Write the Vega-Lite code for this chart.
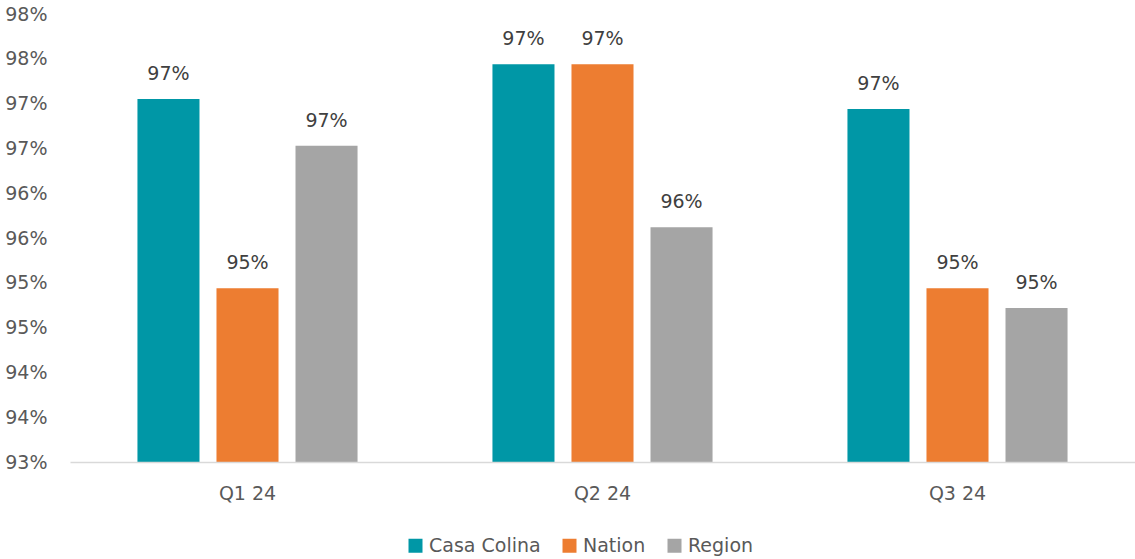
{
  "$schema": "https://vega.github.io/schema/vega-lite/v6.json",
  "width": 1065,
  "height": 448,
  "autosize": {"type": "none"},
  "padding": {"left": 70, "top": 14, "right": 0, "bottom": 97},
  "background": "white",
  "config": {
    "view": {"stroke": null},
    "font": "DejaVu Sans"
  },
  "data": {
    "values": [
      {"quarter": "Q1 24", "series": "Casa Colina", "value": 0.9705},
      {"quarter": "Q1 24", "series": "Nation", "value": 0.9494},
      {"quarter": "Q1 24", "series": "Region", "value": 0.9653},
      {"quarter": "Q2 24", "series": "Casa Colina", "value": 0.9744},
      {"quarter": "Q2 24", "series": "Nation", "value": 0.9744},
      {"quarter": "Q2 24", "series": "Region", "value": 0.9562},
      {"quarter": "Q3 24", "series": "Casa Colina", "value": 0.9694},
      {"quarter": "Q3 24", "series": "Nation", "value": 0.9494},
      {"quarter": "Q3 24", "series": "Region", "value": 0.9472}
    ]
  },
  "encoding": {
    "x": {
      "field": "quarter",
      "type": "nominal",
      "sort": ["Q1 24", "Q2 24", "Q3 24"],
      "scale": {"paddingInner": 0.38, "paddingOuter": 0.19},
      "axis": {
        "title": null,
        "labelAngle": 0,
        "ticks": false,
        "domainColor": "#d9d9d9",
        "domainWidth": 1.5,
        "labelFont": "DejaVu Sans",
        "labelFontSize": 19,
        "labelColor": "#595959",
        "labelPadding": 22,
        "zindex": 1
      }
    },
    "xOffset": {
      "field": "series",
      "type": "nominal",
      "sort": ["Casa Colina", "Nation", "Region"],
      "scale": {"paddingInner": 0.215, "paddingOuter": 0}
    },
    "y": {
      "field": "value",
      "type": "quantitative",
      "scale": {"domain": [0.93, 0.98], "nice": false, "zero": false},
      "axis": {
        "title": null,
        "values": [0.93, 0.935, 0.94, 0.945, 0.95, 0.955, 0.96, 0.965, 0.97, 0.975, 0.98],
        "labelExpr": "round(datum.value * 100 + 0.001) + '%'",
        "domain": false,
        "ticks": false,
        "grid": false,
        "labelFont": "DejaVu Sans",
        "labelFontSize": 19,
        "labelColor": "#595959",
        "labelPadding": 23
      }
    }
  },
  "layer": [
    {
      "mark": {"type": "bar"},
      "encoding": {
        "y2": {"datum": 0.93},
        "color": {
          "field": "series",
          "type": "nominal",
          "sort": ["Casa Colina", "Nation", "Region"],
          "scale": {"domain": ["Casa Colina", "Nation", "Region"], "range": ["#0097A6", "#ED7D31", "#A5A5A5"]},
          "legend": {
            "title": null,
            "orient": "none",
            "direction": "horizontal",
            "legendX": 336,
            "legendY": 522,
            "symbolType": "square",
            "symbolSize": 196,
            "symbolStrokeWidth": 0,
            "labelFont": "DejaVu Sans",
            "labelFontSize": 19,
            "labelColor": "#595959",
            "labelOffset": 4,
            "columnPadding": 19
          }
        }
      }
    },
    {
      "mark": {
        "type": "text",
        "baseline": "alphabetic",
        "dy": -19,
        "font": "DejaVu Sans",
        "fontSize": 19,
        "color": "#404040"
      },
      "encoding": {
        "text": {"field": "value", "type": "quantitative", "format": ".0%"}
      }
    }
  ]
}
